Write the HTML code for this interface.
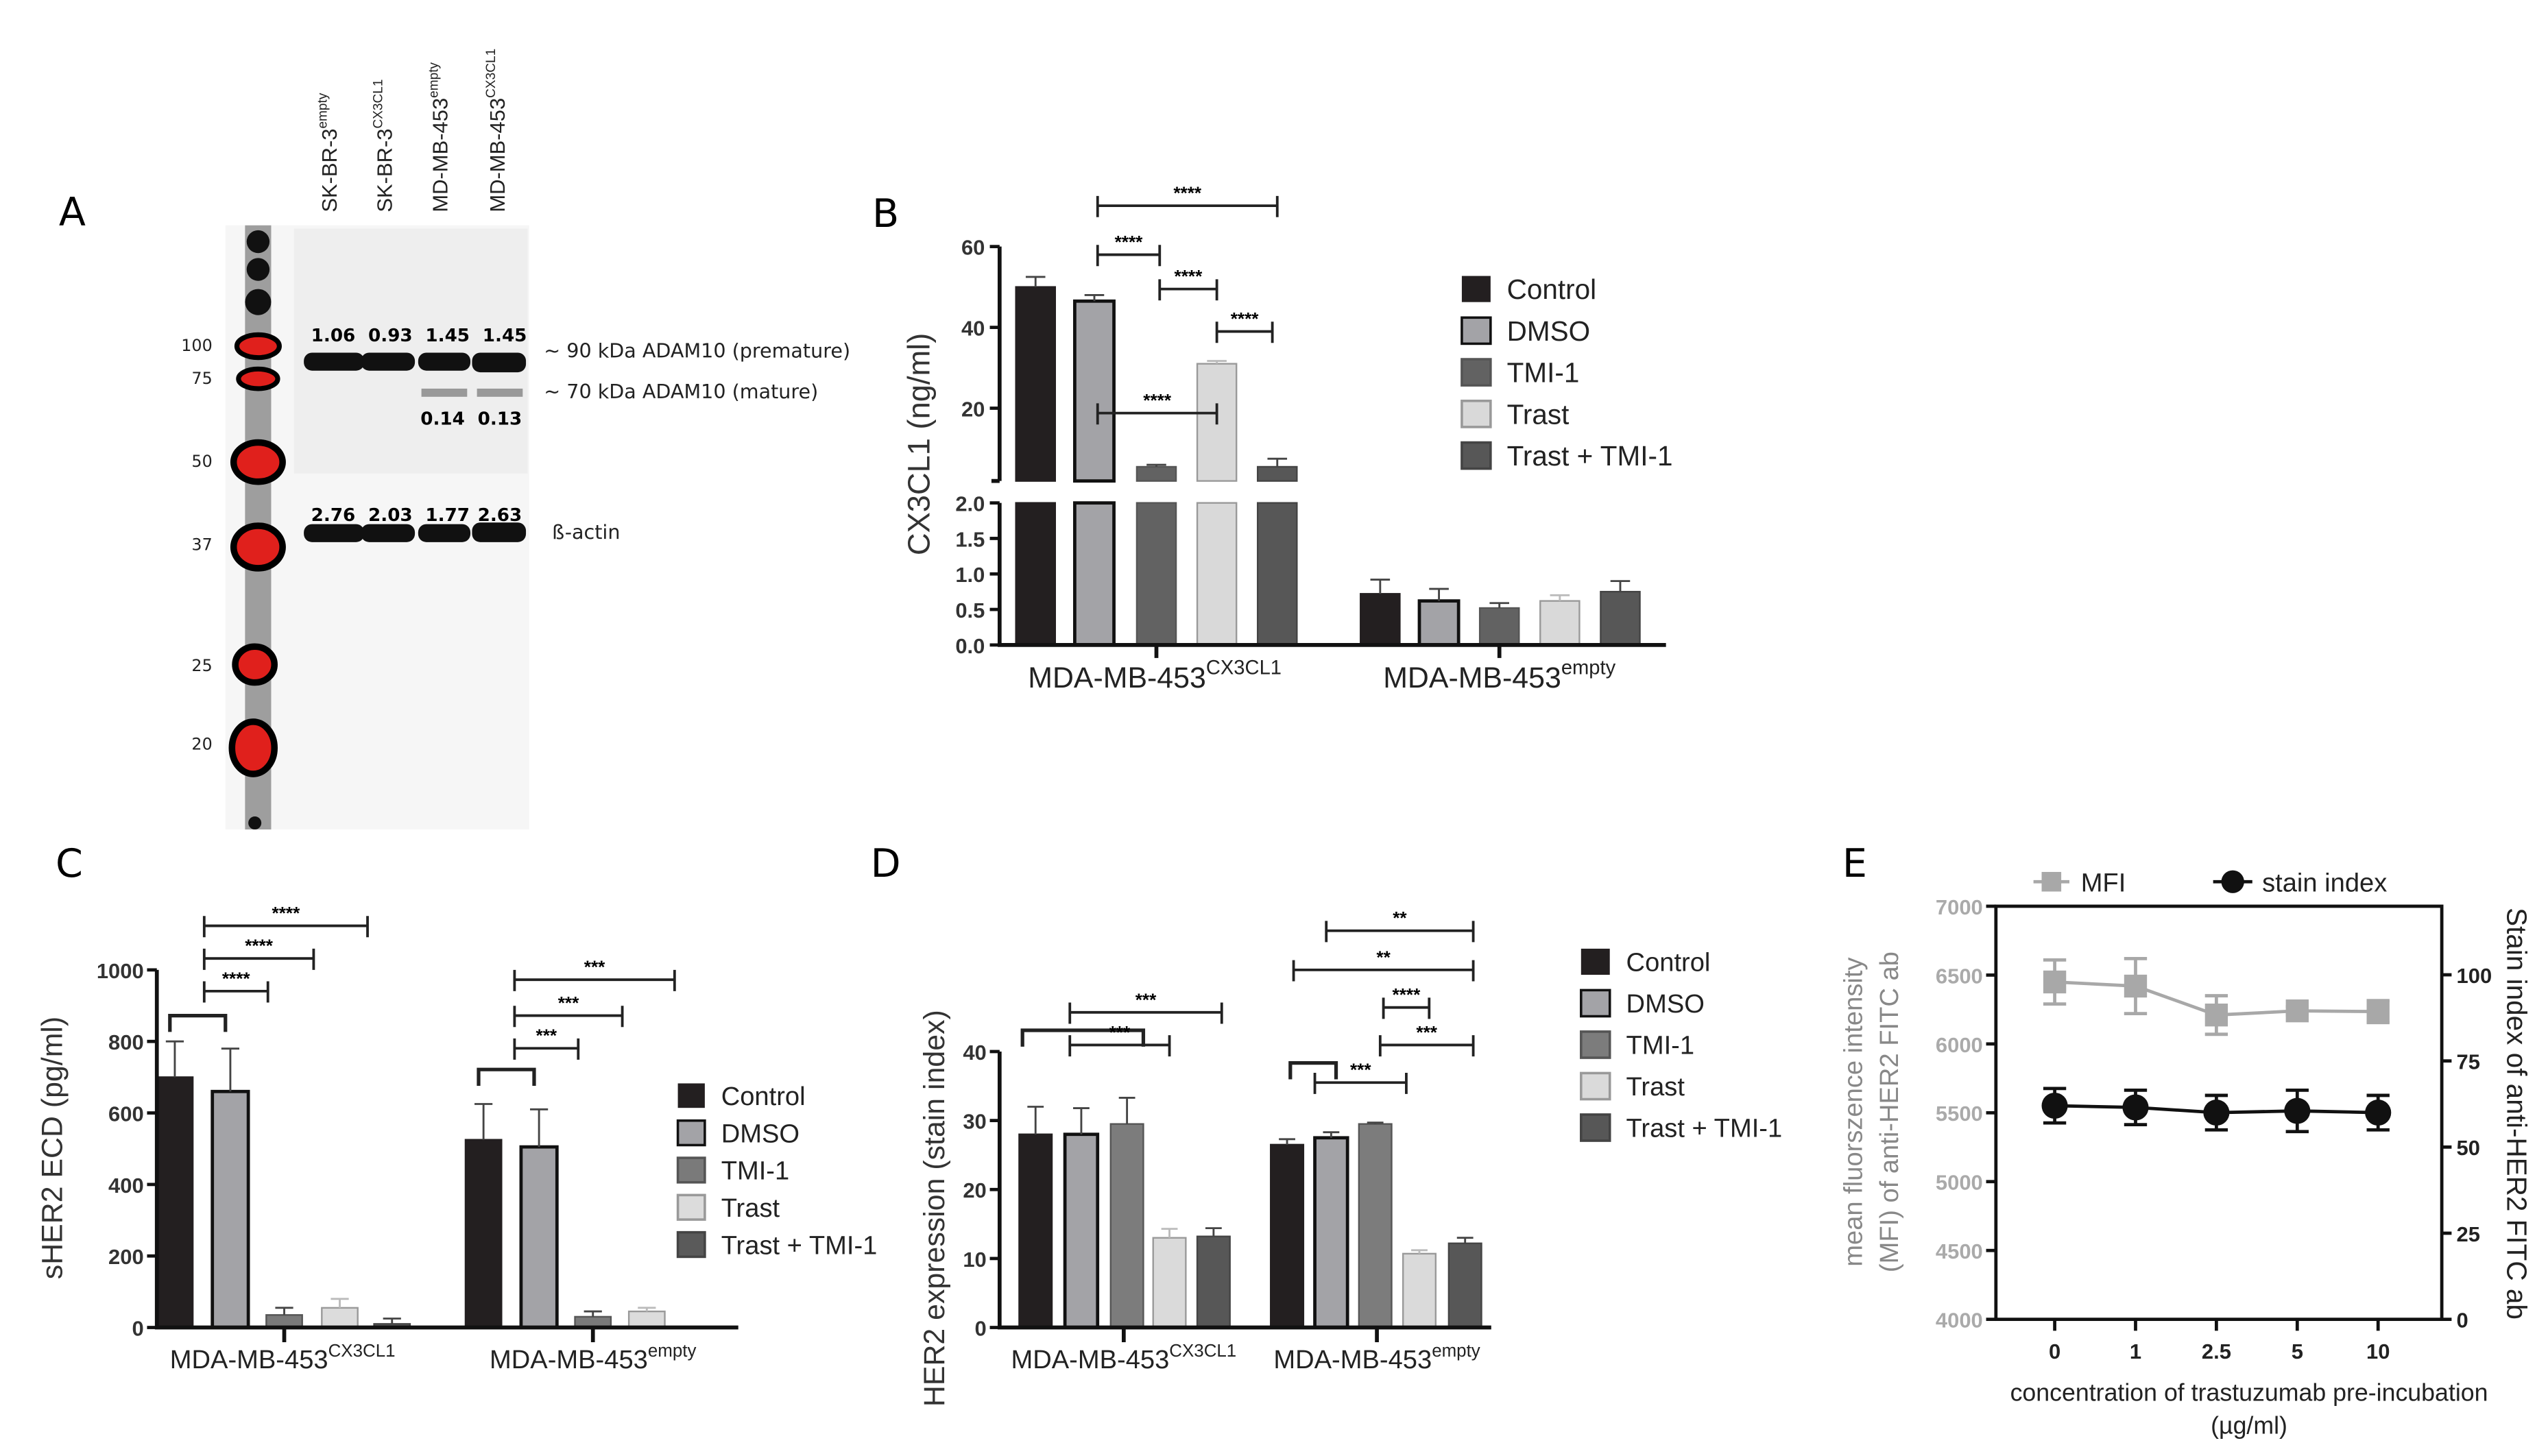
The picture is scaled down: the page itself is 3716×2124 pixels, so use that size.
<!DOCTYPE html>
<html><head><meta charset="utf-8">
<style>
html,body{margin:0;padding:0;background:#fff;}
svg{display:block;font-family:"Liberation Sans",Arial,sans-serif;}
.lbl{font-family:"DejaVu Sans","Liberation Sans",sans-serif;}
</style></head>
<body>
<svg id="fig" width="3716" height="2124" viewBox="0 0 1560 891.7" xmlns="http://www.w3.org/2000/svg">
<g id="panelA">
<text x="36" y="138" font-size="24" class="lbl">A</text>
<rect x="138" y="138" width="186" height="370" fill="#f6f6f6"/>
<rect x="180" y="140" width="143" height="150" fill="#eeeeee"/>
<rect x="150" y="138" width="16" height="370" fill="#555" opacity="0.55"/>
<g>
<ellipse cx="158" cy="212" rx="13" ry="7" fill="#e0201c" stroke="#000" stroke-width="3"/>
<ellipse cx="158" cy="232" rx="12" ry="6" fill="#e0201c" stroke="#000" stroke-width="3"/>
<ellipse cx="158" cy="283" rx="15" ry="12" fill="#e0201c" stroke="#000" stroke-width="4"/>
<ellipse cx="158" cy="335" rx="15" ry="13" fill="#e0201c" stroke="#000" stroke-width="4"/>
<ellipse cx="156" cy="407" rx="12" ry="11" fill="#e0201c" stroke="#000" stroke-width="4"/>
<ellipse cx="155" cy="458" rx="13" ry="16" fill="#e0201c" stroke="#000" stroke-width="4"/>
<circle cx="158" cy="148" r="7" fill="#111"/><circle cx="158" cy="165" r="7" fill="#111"/><circle cx="158" cy="185" r="8" fill="#111"/>
<circle cx="156" cy="504" r="4" fill="#111"/>
</g>
<g font-size="10" text-anchor="end" fill="#222" class="lbl">
<text x="130" y="215">100</text><text x="130" y="235">75</text><text x="130" y="286">50</text>
<text x="130" y="337">37</text><text x="130" y="411">25</text><text x="130" y="459">20</text>
</g>
<g fill="#111">
<rect x="186" y="216" width="37" height="11" rx="5"/><rect x="221" y="216" width="33" height="11" rx="5"/>
<rect x="256" y="216" width="32" height="11" rx="5"/><rect x="289" y="216" width="33" height="12" rx="5"/>
<rect x="186" y="321" width="37" height="11" rx="5"/><rect x="221" y="321" width="33" height="11" rx="5"/>
<rect x="256" y="321" width="32" height="11" rx="5"/><rect x="289" y="320" width="33" height="12" rx="5"/>
<rect x="258" y="238" width="28" height="5" fill="#999"/><rect x="292" y="238" width="28" height="5" fill="#999"/>
</g>
<g font-size="11" font-weight="bold" text-anchor="middle" class="lbl">
<text x="204" y="209">1.06</text><text x="239" y="209">0.93</text><text x="274" y="209">1.45</text><text x="309" y="209">1.45</text>
<text x="271" y="260">0.14</text><text x="306" y="260">0.13</text>
<text x="204" y="319">2.76</text><text x="239" y="319">2.03</text><text x="274" y="319">1.77</text><text x="306" y="319">2.63</text>
</g>
<g font-size="12" class="lbl" fill="#222">
<text x="333" y="219">~ 90 kDa ADAM10 (premature)</text>
<text x="333" y="244">~ 70 kDa ADAM10 (mature)</text>
<text x="338" y="330">ß-actin</text>
</g>
<g font-size="13" fill="#222">
<text transform="translate(206,130) rotate(-90)">SK-BR-3<tspan font-size="8" dy="-6">empty</tspan></text>
<text transform="translate(240,130) rotate(-90)">SK-BR-3<tspan font-size="8" dy="-6">CX3CL1</tspan></text>
<text transform="translate(274,130) rotate(-90)">MD-MB-453<tspan font-size="8" dy="-6">empty</tspan></text>
<text transform="translate(309,130) rotate(-90)">MD-MB-453<tspan font-size="8" dy="-6">CX3CL1</tspan></text>
</g>
</g>
<g id="panelB"></g>
<g id="panelC"></g>
<g id="panelD"></g>
<g id="panelE"></g>
</svg>
<script>
const seriesNames = ["Control","DMSO","TMI-1","Trast","Trast + TMI-1"];
const groupNames = ["MDA-MB-453","MDA-MB-453"];
const groupSups = ["CX3CL1","empty"];
const bCX3CL1 = [50, 46.5, 5.5, 31, 5.5];
const bCX3CL1Err = [2.5, 1.5, 0.5, 0.7, 2];
const bEmpty = [0.72, 0.62, 0.52, 0.62, 0.75];
const bEmptyErr = [0.2, 0.17, 0.07, 0.08, 0.15];
const bUpperTicks = [20, 40, 60];
const bLowerTicks = [0.0, 0.5, 1.0, 1.5, 2.0];
const cCX3CL1 = [700, 660, 35, 55, 10];
const cCX3CL1Err = [100, 120, 20, 25, 15];
const cEmpty = [525, 505, 30, 45, 0];
const cEmptyErr = [100, 105, 15, 10, 0];
const cTicks = [0, 200, 400, 600, 800, 1000];
const dCX3CL1 = [28, 28, 29.5, 13, 13.2];
const dCX3CL1Err = [4, 3.8, 3.8, 1.3, 1.2];
const dEmpty = [26.5, 27.5, 29.5, 10.7, 12.2];
const dEmptyErr = [0.8, 0.8, 0.2, 0.5, 0.8];
const dTicks = [0, 10, 20, 30, 40];
const eConc = ["0","1","2.5","5","10"];
const eMFI = [6450, 6420, 6210, 6240, 6235];
const eMFIErr = [160, 200, 140, 30, 80];
const eSI = [62, 61.5, 60, 60.5, 60];
const eSIErr = [5, 5, 5, 6, 5];
const eLeftTicks = [4000, 4500, 5000, 5500, 6000, 6500, 7000];
const eRightTicks = [0, 25, 50, 75, 100];

const NS = "http://www.w3.org/2000/svg";
function mk(parent, tag, attrs, text){
  const e = document.createElementNS(NS, tag);
  for (const k in attrs) e.setAttribute(k, attrs[k]);
  if (text !== undefined) e.textContent = text;
  parent.appendChild(e); return e;
}
const fills = {
  B: ["#231f20","#a3a3a7","#626262","#d9d9d9","#575757"],
  C: ["#231f20","#a3a3a7","#7a7a7a","#dcdcdc","#5a5a5a"],
  D: ["#231f20","#a3a3a7","#7c7c7c","#dadada","#575757"]
};
const strokes = ["#231f20","#111","#555","#999","#444"];

function bar(g, x, w, y0, y1, i, pal, err1){
  const r = mk(g, "rect", {x: x - w/2, y: Math.min(y0,y1), width: w, height: Math.abs(y0-y1), fill: pal[i], stroke: strokes[i], "stroke-width": i==1?2:1});
  
  
  if (err1 !== null){
    const l = mk(g, "path", {d:`M${x},${y1} V${err1} M${x-w/4},${err1} H${x+w/4}`, stroke: i==3?"#bbb":"#444", "stroke-width":1.2, fill:"none"});
    
    
  }
}
function sig(g, x1, x2, y, stars, fs){
  const p = mk(g, "path", {d:`M${x1},${y+7} V${y-6} M${x1},${y} H${x2} M${x2},${y-6} V${y+7}`, stroke:"#222", "stroke-width":1.6, fill:"none"});
  
  
  if (stars){
    const t = mk(g, "text", {x:(x1+x2)/2, y:y-4, "text-anchor":"middle", "font-size":fs||11, "font-weight":"bold"}, stars);
    
    
  }
}
function pairBracket(g, x1, x2, y){
  const p = mk(g, "path", {d:`M${x1},${y+10} V${y} H${x2} V${y+10}`, stroke:"#222", "stroke-width":2.2, fill:"none"});
  
  
}
function groupLabel(g, x, y, i, fs){
  const t = mk(g, "text", {x, y, "text-anchor":"middle", "font-size":fs, fill:"#222"});
  
  
  t.textContent = groupNames[i];
  mk(t, "tspan", {"font-size": fs*0.68, dy: -fs*0.45}, groupSups[i]);
}
function legend(g, x, y0, dy, pal, fs, sz){
  seriesNames.forEach((n,i)=>{
    const gg = mk(g, "g", {});
    
    
    mk(gg, "rect", {x, y: y0+i*dy - sz/2, width: sz*1.1, height: sz, fill: pal[i], stroke: strokes[i], "stroke-width": i==0?0:1.5});
    mk(gg, "text", {x: x+sz*1.1+10, y: y0+i*dy + fs*0.36, "font-size": fs, fill:"#222"}, n);
  });
}
function panelLabel(g, t, x, y){
  const e = mk(g, "text", {x, y, "font-size":24, class:"lbl"}, t);
  
  
}

(function(){
  const g = document.getElementById("panelB");
  panelLabel(g, "B", 534, 139);
  const ax = 612;
  const yU = v => 250 - (v - 20) * 2.475;
  const yL = v => 395 - v * 43.5;
  const breakTop = yU(2), breakBot = yL(2);
  const pos = [[634,670,708,745,782],[845,881,918,955,992]];
  const data = [bCX3CL1, bEmpty], errs = [bCX3CL1Err, bEmptyErr];
  data.forEach((arr, gi) => arr.forEach((v, i) => {
    const x = pos[gi][i], w = 24;
    if (v > 2){
      bar(g, x, w, yL(0), yL(2), i, fills.B, null);
      bar(g, x, w, yU(2), yU(v), i, fills.B, yU(v + errs[gi][i]));
    } else bar(g, x, w, yL(0), yL(v), i, fills.B, yL(v + errs[gi][i]));
  }));
  const axis = mk(g, "path", {d:`M${ax},${yU(60)} V${breakTop} M${ax-5},${breakTop} H${ax} M${ax},${breakBot} V${yL(0)} H1020 M${708},${yL(0)} v8 M${918},${yL(0)} v8`, stroke:"#111", "stroke-width":2.4, fill:"none"});
  
  
  bUpperTicks.forEach(t => { mk(g,"path",{d:`M${ax-6},${yU(t)} H${ax}`,stroke:"#111","stroke-width":2});
    const tx = mk(g,"text",{x:ax-9,y:yU(t)+5,"text-anchor":"end","font-size":13,"font-weight":"bold",fill:"#333"}, t);
      });
  bLowerTicks.forEach(t => { mk(g,"path",{d:`M${ax-6},${yL(t)} H${ax}`,stroke:"#111","stroke-width":2});
    const tx = mk(g,"text",{x:ax-9,y:yL(t)+5,"text-anchor":"end","font-size":13,"font-weight":"bold",fill:"#333"}, t.toFixed(1));
      });
  const yt = mk(g,"text",{transform:"translate(569,272) rotate(-90)","text-anchor":"middle","font-size":19,fill:"#333"},"CX3CL1 (ng/ml)");
   
  groupLabel(g, 707, 421, 0, 18); groupLabel(g, 918, 421, 1, 18);
  sig(g, 672, 782, 126, "****"); sig(g, 672, 710, 156, "****"); sig(g, 710, 745, 177, "****");
  sig(g, 745, 779, 203, "****"); sig(g, 672, 745, 253, "****");
  legend(g, 895, 177, 25.5, fills.B, 17, 16);
})();

(function(){
  const g = document.getElementById("panelC");
  panelLabel(g, "C", 34, 537);
  const ax = 96, y = v => 813 - v * 0.219;
  const pos = [[107,141,174,208,240],[296,330,363,396,430]];
  [cCX3CL1, cEmpty].forEach((arr, gi) => arr.forEach((v,i) => {
    if (v <= 0) return;
    bar(g, pos[gi][i], 22, y(0), y(v), i, fills.C, y(v + [cCX3CL1Err,cEmptyErr][gi][i]));
  }));
  const a = mk(g,"path",{d:`M${ax},${y(1000)} V${y(0)} H${452} M174,${y(0)} v9 M363,${y(0)} v9`,stroke:"#111","stroke-width":2.4,fill:"none"});
   
  cTicks.forEach(t => { mk(g,"path",{d:`M${ax-6},${y(t)} H${ax}`,stroke:"#111","stroke-width":2});
    const tx = mk(g,"text",{x:ax-8,y:y(t)+5,"text-anchor":"end","font-size":13,"font-weight":"bold",fill:"#333"},t);
      });
  const yt = mk(g,"text",{transform:"translate(38,703) rotate(-90)","text-anchor":"middle","font-size":18,fill:"#333"},"sHER2 ECD (pg/ml)");
   
  groupLabel(g, 173, 838, 0, 16); groupLabel(g, 363, 838, 1, 16);
  pairBracket(g, 104, 138, 622);
  sig(g, 125, 164, 607, "****"); sig(g, 125, 192, 587, "****"); sig(g, 125, 225, 567, "****");
  pairBracket(g, 293, 327, 655);
  sig(g, 315, 354, 642, "***"); sig(g, 315, 381, 622, "***"); sig(g, 315, 413, 600, "***");
  legend(g, 415, 671, 22.8, fills.C, 16, 15);
})();

(function(){
  const g = document.getElementById("panelD");
  panelLabel(g, "D", 533, 537);
  const ax = 612, y = v => 813 - v * 4.225;
  const pos = [[634,662,690,716,743],[788,815,842,869,897]];
  [dCX3CL1, dEmpty].forEach((arr, gi) => arr.forEach((v,i) => {
    bar(g, pos[gi][i], 20, y(0), y(v), i, fills.D, y(v + [dCX3CL1Err,dEmptyErr][gi][i]));
  }));
  const a = mk(g,"path",{d:`M${ax},${y(40)} V${y(0)} H${913} M688,${y(0)} v9 M843,${y(0)} v9`,stroke:"#111","stroke-width":2.4,fill:"none"});
   
  dTicks.forEach(t => { mk(g,"path",{d:`M${ax-6},${y(t)} H${ax}`,stroke:"#111","stroke-width":2});
    const tx = mk(g,"text",{x:ax-8,y:y(t)+5,"text-anchor":"end","font-size":13,"font-weight":"bold",fill:"#333"},t);
      });
  const yt = mk(g,"text",{transform:"translate(578,740) rotate(-90)","text-anchor":"middle","font-size":18,fill:"#333"},"HER2 expression (stain index)");
   
  groupLabel(g, 688, 838, 0, 16); groupLabel(g, 843, 838, 1, 16);
  pairBracket(g, 626, 700, 631);
  sig(g, 655, 716, 640, "***"); sig(g, 655, 748, 620, "***");
  pairBracket(g, 790, 818, 651);
  sig(g, 805, 861, 663, "***"); sig(g, 845, 902, 640, "***"); sig(g, 847, 875, 617, "****");
  sig(g, 792, 902, 594, "**"); sig(g, 812, 902, 570, "**");
  legend(g, 968, 589, 25.4, fills.D, 16, 16);
})();

(function(){
  const g = document.getElementById("panelE");
  panelLabel(g, "E", 1128, 537);
  const L = 1222, R = 1495, T = 555, B = 808;
  const yl = v => B - (v - 4000) * (B - T) / 3000;
  const yr = v => B - v * 2.11;
  const xc = i => 1258 + i * 49.5;
  const fr = mk(g,"rect",{x:L,y:T,width:R-L,height:B-T,fill:"none",stroke:"#111","stroke-width":2});
   
  eLeftTicks.forEach(t => { mk(g,"path",{d:`M${L-6},${yl(t)} H${L}`,stroke:"#111","stroke-width":2});
    const tx = mk(g,"text",{x:L-8,y:yl(t)+5,"text-anchor":"end","font-size":13,"font-weight":"bold",fill:"#aaa"},t);
      });
  eRightTicks.forEach(t => { mk(g,"path",{d:`M${R},${yr(t)} H${R+6}`,stroke:"#111","stroke-width":2});
    const tx = mk(g,"text",{x:R+9,y:yr(t)+5,"font-size":13,"font-weight":"bold",fill:"#222"},t);
      });
  eConc.forEach((c,i) => { mk(g,"path",{d:`M${xc(i)},${B} v7`,stroke:"#111","stroke-width":2});
    const tx = mk(g,"text",{x:xc(i),y:B+24,"text-anchor":"middle","font-size":13,"font-weight":"bold",fill:"#222"},c);
      });
  const mp = mk(g,"polyline",{points: eMFI.map((v,i)=>`${xc(i)},${yl(v)}`).join(" "),fill:"none",stroke:"#a8a8a8","stroke-width":2});
   
  eMFI.forEach((v,i) => {
    const e = mk(g,"path",{d:`M${xc(i)},${yl(v-eMFIErr[i])} V${yl(v+eMFIErr[i])} M${xc(i)-7},${yl(v-eMFIErr[i])} h14 M${xc(i)-7},${yl(v+eMFIErr[i])} h14`,stroke:"#a8a8a8","stroke-width":2,fill:"none"});
     
    const m = mk(g,"rect",{x:xc(i)-7,y:yl(v)-7,width:14,height:14,fill:"#a8a8a8"});
     
  });
  const sp = mk(g,"polyline",{points: eSI.map((v,i)=>`${xc(i)},${yr(v)}`).join(" "),fill:"none",stroke:"#111","stroke-width":2});
   
  eSI.forEach((v,i) => {
    const e = mk(g,"path",{d:`M${xc(i)},${yr(v-eSIErr[i])} V${yr(v+eSIErr[i])} M${xc(i)-7},${yr(v-eSIErr[i])} h14 M${xc(i)-7},${yr(v+eSIErr[i])} h14`,stroke:"#111","stroke-width":2,fill:"none"});
     
    const m = mk(g,"circle",{cx:xc(i),cy:yr(v),r:8,fill:"#111"});
     
  });
  const l1 = mk(g,"g",{});  
  mk(l1,"path",{d:"M1245,540 h22",stroke:"#a8a8a8","stroke-width":2}); mk(l1,"rect",{x:1250,y:534,width:12,height:12,fill:"#a8a8a8"});
  mk(l1,"text",{x:1274,y:546,"font-size":16,fill:"#222"},"MFI");
  const l2 = mk(g,"g",{});  
  mk(l2,"path",{d:"M1355,540 h24",stroke:"#111","stroke-width":2}); mk(l2,"circle",{cx:1367,cy:540,r:7,fill:"#111"});
  mk(l2,"text",{x:1385,y:546,"font-size":16,fill:"#222"},"stain index");
  const t1 = mk(g,"text",{transform:"translate(1140,681) rotate(-90)","text-anchor":"middle","font-size":16,fill:"#888"},"mean fluorszence intensity");
   
  const t2 = mk(g,"text",{transform:"translate(1162,681) rotate(-90)","text-anchor":"middle","font-size":16,fill:"#888"},"(MFI) of anti-HER2 FITC ab");
   
  const t3 = mk(g,"text",{transform:"translate(1535,682) rotate(90)","text-anchor":"middle","font-size":17,fill:"#222"},"Stain index of anti-HER2 FITC ab");
   
  const t4 = mk(g,"text",{x:1377,y:858,"text-anchor":"middle","font-size":15,fill:"#222"},"concentration of trastuzumab pre-incubation");
   
  const t5 = mk(g,"text",{x:1377,y:878,"text-anchor":"middle","font-size":15,fill:"#222"},"(µg/ml)");
   
})();
</script>
</body></html>
